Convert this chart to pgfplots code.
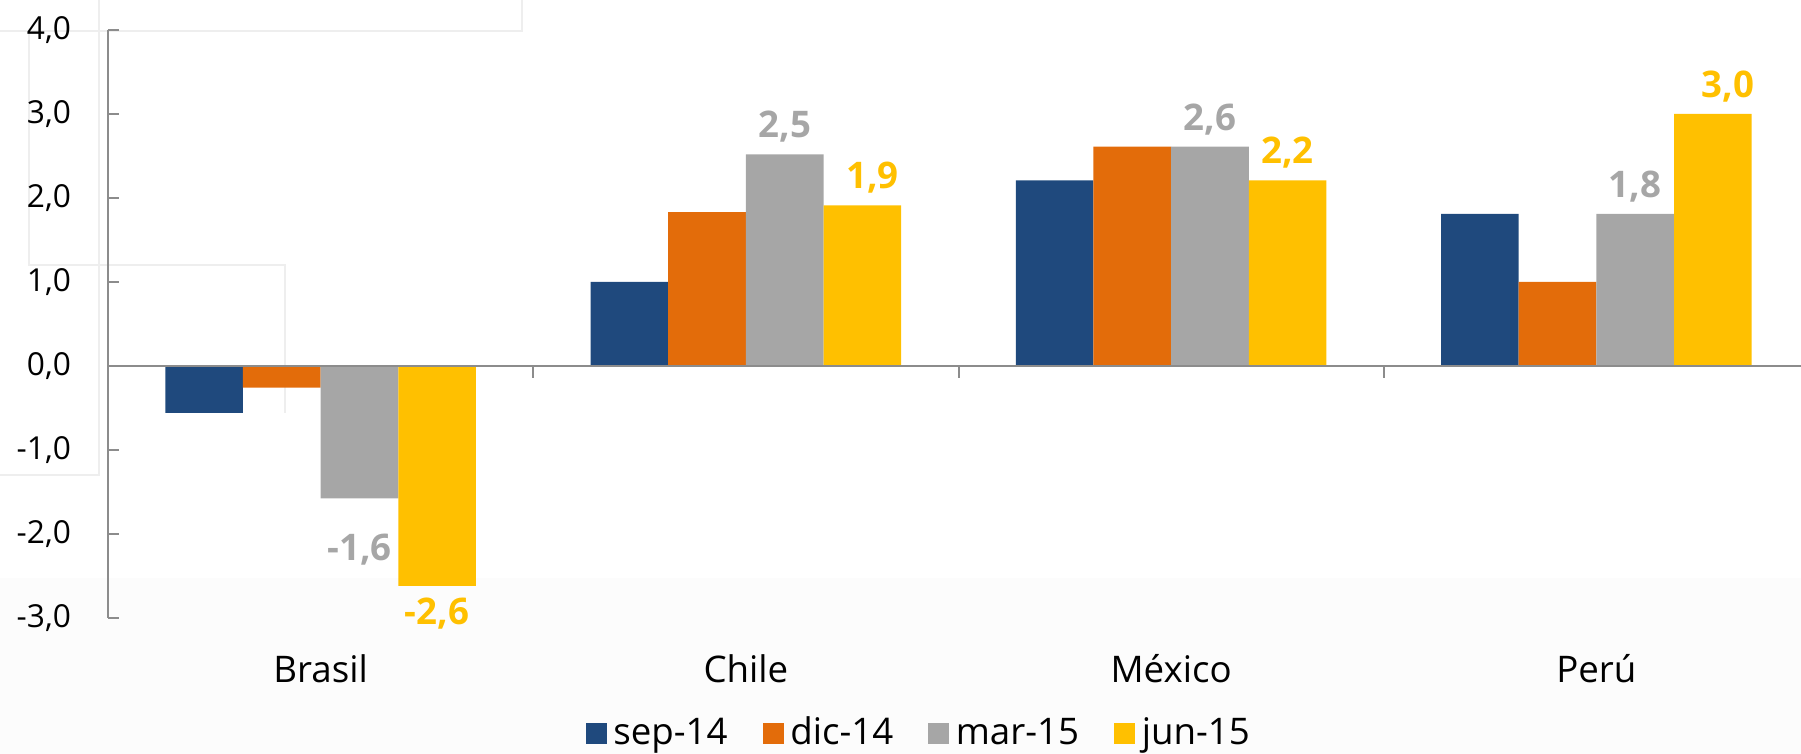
\documentclass[border=0pt]{standalone}
\usepackage{fontspec}
\setmainfont{Open Sans}
\usepackage{pgfplots}
\pgfplotsset{compat=1.18}
\usepackage{pgfplotstable}

\definecolor{cblue}{HTML}{1F497D}
\definecolor{corange}{HTML}{E36C0A}
\definecolor{cgray}{HTML}{A6A6A6}
\definecolor{cyellow}{HTML}{FFC000}
\definecolor{axgray}{HTML}{8C8C8C}
\definecolor{ghost}{HTML}{EEEEEE}
\definecolor{bglow}{HTML}{FCFCFC}

% x = category, y = value, dx/dy = label shift (pt)
\pgfplotstableread{
x y dx dy
0 -0.56 0 0
1 1.00 0 0
2 2.21 0 0
3 1.81 0 0
}\sep
\pgfplotstableread{
x y dx dy
0 -0.26 0 0
1 1.83 0 0
2 2.61 0 0
3 1.00 0 0
}\dic
\pgfplotstableread{
x y dx dy
0 -1.58 0 -7
1 2.52 0 0
2 2.61 0 0
3 1.81 0 0
}\mar
\pgfplotstableread{
x y dx dy
0 -2.62 0 0
1 1.91 3 0
2 2.21 0 0
3 3.00 4.5 0
}\jun

\begin{document}
\begin{tikzpicture}
\path[use as bounding box] (-32.4pt,-40.89pt) rectangle (507.9pt,185.31pt);
\fill[bglow] (-32.4pt,-40.89pt) rectangle (507.9pt,11.9pt);
% faint window edges seen behind the chart
\begin{scope}[draw=ghost, line width=0.6pt]
\draw (-32.4pt,176pt) -- (124.2pt,176pt) -- (124.2pt,185.31pt);
\draw (-23.7pt,176pt) -- (-23.7pt,105.8pt) -- (53.1pt,105.8pt) -- (53.1pt,61.4pt);
\draw (-2.7pt,185.31pt) -- (-2.7pt,42.8pt) -- (-32.4pt,42.8pt);
\end{scope}
\begin{axis}[
at={(0,0)}, anchor=south west,
scale only axis,
width=510.3pt, height=176.3pt,
xmin=-0.5, xmax=3.5,
ymin=-3, ymax=4,
clip=false,
ybar=0pt, bar width=23.3pt,
axis line style={draw=none},
xtick={0,1,2,3},
xticklabels={Brasil,Chile,México,Perú},
xtick style={draw=none},
xticklabel style={font=\fontsize{11}{13}\selectfont, yshift=-4.3pt},
ytick={-3,-2,...,4},
ytick pos=left,
ytick align=inside,
major tick length=3.3pt,
ytick style={color=axgray, line width=0.6pt},
yticklabel style={font=\fontsize{9.5}{11}\selectfont, xshift=-7.6pt},
/pgf/number format/fixed,
/pgf/number format/fixed zerofill,
/pgf/number format/precision=1,
/pgf/number format/use comma,
/pgf/number format/assume math mode=true,
legend columns=4,
legend style={at={(0.478,-0.197)}, anchor=center, draw=none, fill=none,
  font=\fontsize{11}{13}\selectfont,
  /tikz/every even column/.append style={column sep=8.5pt}},
legend image code/.code={\fill[#1] (0pt,-3.15pt) rectangle (6.3pt,3.15pt);},
visualization depends on={\thisrow{dx} \as \ldx},
visualization depends on={\thisrow{dy} \as \ldy},
]
\addplot[fill=cblue, draw=none] table[x=x,y=y] {\sep};
\addplot[fill=corange, draw=none] table[x=x,y=y] {\dic};
\addplot[fill=cgray, draw=none, nodes near coords,
  nodes near coords style={text=cgray, font=\bfseries\fontsize{11}{13}\selectfont, xshift=\ldx pt, yshift=\ldy pt}]
  table[x=x,y=y] {\mar};
\addplot[fill=cyellow, draw=none, nodes near coords,
  nodes near coords style={text=cyellow, font=\bfseries\fontsize{11}{13}\selectfont, xshift=\ldx pt, yshift=\ldy pt}]
  table[x=x,y=y] {\jun};
\legend{sep-14,dic-14,mar-15,jun-15}
\draw[axgray, line width=0.6pt] (axis cs:-0.5,-3) -- (axis cs:-0.5,4);
\draw[axgray, line width=0.6pt] (axis cs:-0.5,0) -- (axis cs:3.5,0);
\draw[axgray, line width=0.6pt] (axis cs:0.5,0) -- ++(0pt,-3.6pt);
\draw[axgray, line width=0.6pt] (axis cs:1.5,0) -- ++(0pt,-3.6pt);
\draw[axgray, line width=0.6pt] (axis cs:2.5,0) -- ++(0pt,-3.6pt);
\end{axis}
\end{tikzpicture}
\end{document}
